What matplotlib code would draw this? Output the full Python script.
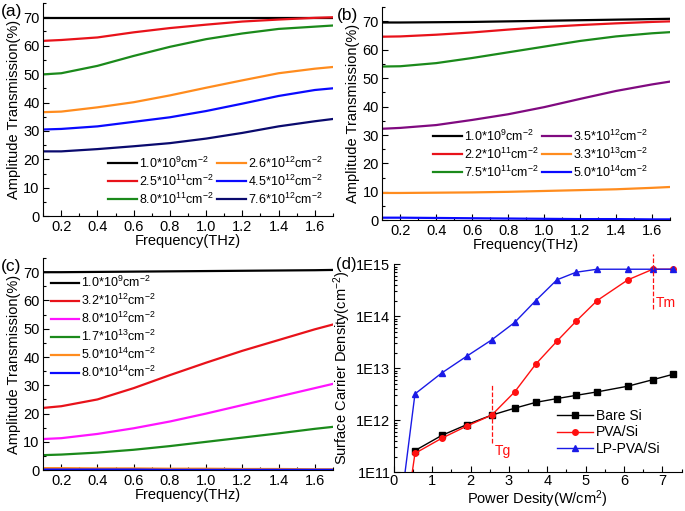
import matplotlib
matplotlib.use("Agg")
from matplotlib import pyplot as plt
from matplotlib.ticker import MultipleLocator, FixedLocator, FixedFormatter, LogLocator, NullFormatter

plt.rcParams['font.family'] = ['Liberation Sans', 'DejaVu Sans']
plt.rcParams['mathtext.default'] = 'regular'
plt.rcParams['xtick.direction'] = 'in'
plt.rcParams['ytick.direction'] = 'in'

# frequency grid (THz) for panels a-c
freq = [0.1, 0.2, 0.4, 0.6, 0.8, 1.0, 1.2, 1.4, 1.6, 1.7]

# panel (a)
labels_a = ["1.0*10$^{9}$cm$^{-2}$", "2.5*10$^{11}$cm$^{-2}$", "8.0*10$^{11}$cm$^{-2}$",
            "2.6*10$^{12}$cm$^{-2}$", "4.5*10$^{12}$cm$^{-2}$", "7.6*10$^{12}$cm$^{-2}$"]
colors_a = ["black", "#e8121a", "#1b8a1b", "#ff8c1e", "#0a0aff", "#0a0a6e"]
trans_a = [
    [69.8, 69.8, 69.8, 69.8, 69.8, 69.8, 69.8, 69.8, 69.8, 69.8],
    [61.7, 62.0, 62.9, 64.7, 66.2, 67.4, 68.5, 69.2, 69.8, 70.0],
    [49.9, 50.3, 52.9, 56.4, 59.6, 62.3, 64.3, 65.9, 66.7, 67.1],
    [36.6, 36.8, 38.3, 40.1, 42.5, 45.2, 47.8, 50.3, 51.9, 52.5],
    [30.5, 30.7, 31.6, 33.2, 34.8, 37.0, 39.6, 42.3, 44.4, 45.0],
    [22.8, 22.8, 23.6, 24.6, 25.7, 27.3, 29.3, 31.6, 33.4, 34.2],
]

# panel (b)
labels_b = ["1.0*10$^{9}$cm$^{-2}$", "2.2*10$^{11}$cm$^{-2}$", "7.5*10$^{11}$cm$^{-2}$",
            "3.5*10$^{12}$cm$^{-2}$", "3.3*10$^{13}$cm$^{-2}$", "5.0*10$^{14}$cm$^{-2}$"]
colors_b = ["black", "#e8121a", "#1b8a1b", "#800a80", "#ff8c1e", "#0a0aff"]
trans_b = [
    [69.6, 69.6, 69.7, 69.8, 70.0, 70.2, 70.4, 70.6, 70.8, 70.9],
    [64.6, 64.7, 65.3, 66.1, 67.1, 68.0, 68.7, 69.3, 69.8, 70.0],
    [54.1, 54.2, 55.3, 57.1, 59.1, 61.1, 63.1, 64.7, 65.8, 66.2],
    [32.2, 32.5, 33.5, 35.3, 37.3, 39.8, 42.7, 45.5, 47.8, 48.8],
    [9.6, 9.6, 9.7, 9.8, 10.0, 10.3, 10.6, 10.9, 11.4, 11.7],
    [0.9, 0.9, 0.8, 0.7, 0.6, 0.5, 0.4, 0.4, 0.3, 0.3],
]

# panel (c)
labels_c = ["1.0*10$^{9}$cm$^{-2}$", "3.2*10$^{12}$cm$^{-2}$", "8.0*10$^{12}$cm$^{-2}$",
            "1.7*10$^{13}$cm$^{-2}$", "5.0*10$^{14}$cm$^{-2}$", "8.0*10$^{14}$cm$^{-2}$"]
colors_c = ["black", "#e8121a", "#ff14ff", "#1b8a1b", "#ff8c1e", "#0a0aff"]
trans_c = [
    [70.0, 70.0, 70.1, 70.2, 70.3, 70.4, 70.5, 70.6, 70.7, 70.8],
    [22.0, 22.6, 25.0, 29.0, 33.6, 38.0, 42.2, 46.0, 49.8, 51.5],
    [11.0, 11.3, 12.8, 14.8, 17.2, 20.0, 23.0, 26.0, 29.0, 30.5],
    [5.3, 5.5, 6.2, 7.2, 8.5, 10.0, 11.5, 13.0, 14.6, 15.3],
    [0.7, 0.7, 0.6, 0.6, 0.5, 0.5, 0.4, 0.4, 0.3, 0.3],
    [0.2, 0.2, 0.2, 0.2, 0.1, 0.1, 0.1, 0.1, 0.1, 0.1],
]

# panel (d)
power = [0.55, 1.25, 1.9, 2.55, 3.15, 3.7, 4.25, 4.75, 5.3, 6.1, 6.75, 7.27]
bare_si = [2.6e11, 5.1e11, 8.2e11, 1.25e12, 1.7e12, 2.2e12, 2.6e12, 3.0e12, 3.5e12, 4.5e12, 6.0e12, 7.6e12]
power_pva = [0.46] + power
pva_si = [8e10, 2.3e11, 4.5e11, 7.7e11, 1.25e12, 3.5e12, 1.2e13, 3.3e13, 8e13, 2e14, 5e14, 8e14, 8e14]
power_lp = [0.12] + power
lp_pva_si = [1e10, 3.2e12, 8.1e12, 1.7e13, 3.5e13, 7.6e13, 2e14, 5e14, 7e14, 8e14, 8e14, 8e14, 8e14]
tg_x, tm_x = 2.55, 6.75

fig = plt.figure(figsize=(6.85, 5.11), dpi=100)
ax_a = fig.add_axes([0.063, 0.577, 0.423, 0.417])
ax_b = fig.add_axes([0.558, 0.569, 0.42, 0.417])
ax_c = fig.add_axes([0.063, 0.080, 0.423, 0.415])
ax_d = fig.add_axes([0.575, 0.076, 0.42, 0.407])


def style_freq_axes(ax):
    ax.set_xlim(0.1, 1.7)
    ax.set_ylim(0, 75)
    ax.xaxis.set_major_locator(FixedLocator([0.2, 0.4, 0.6, 0.8, 1.0, 1.2, 1.4, 1.6]))
    ax.xaxis.set_minor_locator(MultipleLocator(0.1))
    ax.yaxis.set_major_locator(FixedLocator([0, 10, 20, 30, 40, 50, 60, 70]))
    ax.yaxis.set_minor_locator(MultipleLocator(5))
    ax.spines['top'].set_visible(False)
    ax.spines['right'].set_visible(False)
    ax.tick_params(labelsize=10.5, length=4, width=0.8, pad=2.5)
    ax.tick_params(which='minor', length=2.5, width=0.8)
    ax.set_xlabel("Frequency(THz)", fontsize=10.5, labelpad=0)
    ax.set_ylabel("Amplitude Transmission(%)", fontsize=10.5, labelpad=2)


for ax, data, labels, colors in [(ax_a, trans_a, labels_a, colors_a),
                                 (ax_b, trans_b, labels_b, colors_b),
                                 (ax_c, trans_c, labels_c, colors_c)]:
    for y, lab, col in zip(data, labels, colors):
        ax.plot(freq, y, color=col, lw=1.6, label=lab)
    style_freq_axes(ax)

leg_kw = dict(frameon=False, fontsize=9, handlelength=2.3, handletextpad=0.15,
              labelspacing=0.22, borderaxespad=0.2)
ax_a.legend(ncol=2, loc='lower right', bbox_to_anchor=(0.99, 0.01), columnspacing=0.3, **leg_kw)
ax_b.legend(ncol=2, loc='upper left', bbox_to_anchor=(0.15, 0.465), columnspacing=0.3, **leg_kw)
ax_c.legend(ncol=1, loc='upper left', bbox_to_anchor=(0.0, 0.955), **leg_kw)

# panel (d)
ax_d.plot(power, bare_si, color='black', lw=1.0, marker='s', ms=4, label='Bare Si')
ax_d.plot(power_pva, pva_si, color='#ff1010', lw=1.0, marker='o', ms=4,
          markevery=list(range(1, len(power_pva))), label='PVA/Si')
ax_d.plot(power_lp, lp_pva_si, color='#1a1ae6', lw=1.0, marker='^', ms=4,
          markevery=list(range(1, len(power_lp))), label='LP-PVA/Si')
ax_d.set_yscale('log')
ax_d.set_xlim(0, 7.5)
ax_d.set_ylim(1e11, 1e15)
ax_d.xaxis.set_major_locator(MultipleLocator(1))
ax_d.xaxis.set_minor_locator(MultipleLocator(0.5))
ax_d.yaxis.set_major_locator(FixedLocator([1e11, 1e12, 1e13, 1e14, 1e15]))
ax_d.yaxis.set_major_formatter(FixedFormatter(["1E11", "1E12", "1E13", "1E14", "1E15"]))
ax_d.yaxis.set_minor_locator(LogLocator(base=10, subs=range(2, 10), numticks=20))
ax_d.yaxis.set_minor_formatter(NullFormatter())
ax_d.spines['top'].set_visible(False)
ax_d.spines['right'].set_visible(False)
ax_d.tick_params(labelsize=10.5, length=4, width=0.8, pad=2.5)
ax_d.tick_params(axis='x', pad=1.5)
ax_d.tick_params(which='minor', length=2.5, width=0.8)
ax_d.set_xlabel("Power Desity(W/cm$^{2}$)", fontsize=10.5, labelpad=0)
ax_d.set_ylabel("Surface Carrier Density(cm$^{-2}$)", fontsize=10.5, labelpad=2)
ax_d.plot([tg_x, tg_x], [3.7e11, 5e12], color='#ff1010', lw=0.9, ls='--')
ax_d.plot([tm_x, tm_x], [1.35e14, 1.6e15], color='#ff1010', lw=0.9, ls='--', clip_on=False)
ax_d.text(tg_x + 0.07, 2.6e11, "Tg", color='#ff1010', fontsize=10, va='center')
ax_d.text(tm_x + 0.07, 1.8e14, "Tm", color='#ff1010', fontsize=10, va='center')
ax_d.legend(loc='lower right', bbox_to_anchor=(0.97, 0.02), frameon=False, fontsize=10,
            handlelength=2.6, handletextpad=0.2, labelspacing=0.15)

fig.text(0.002, 0.992, "(a)", fontsize=12.5, va='top')
fig.text(0.492, 0.985, "(b)", fontsize=12.5, va='top')
fig.text(0.002, 0.494, "(c)", fontsize=12.5, va='top')
fig.text(0.4905, 0.497, "(d)", fontsize=12, va='top')

fig.savefig("out.png", dpi=100)
